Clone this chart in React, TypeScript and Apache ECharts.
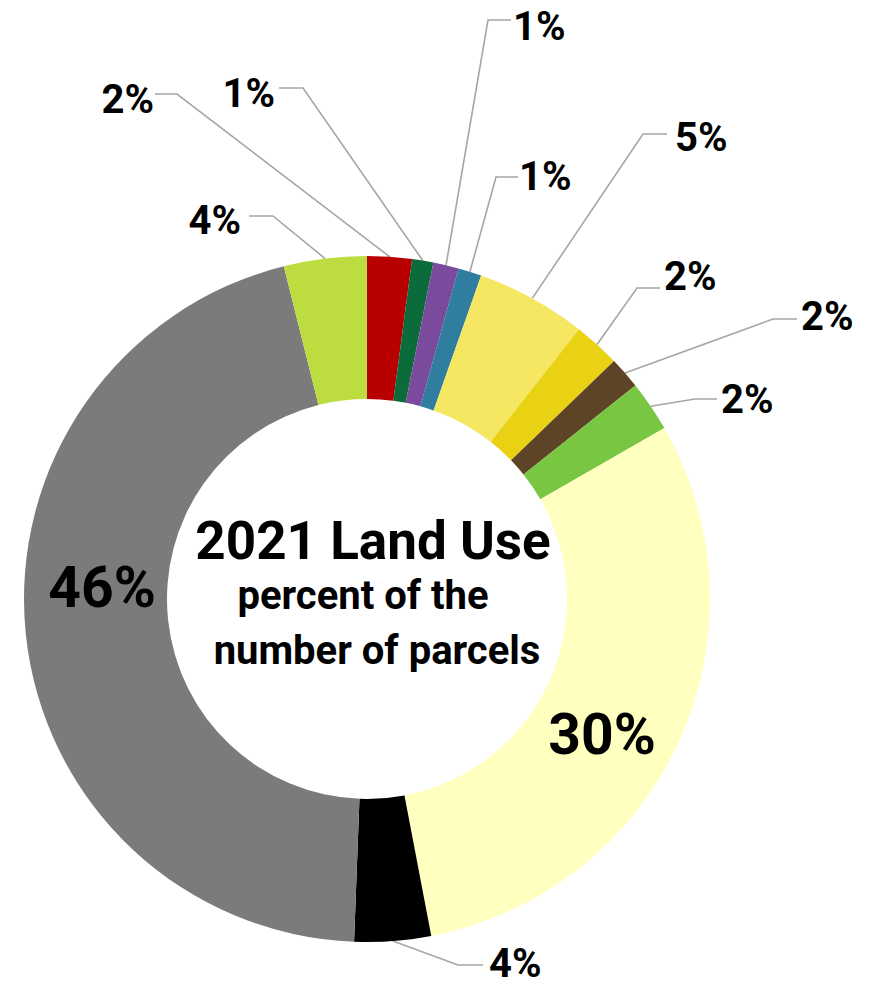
import React, { useEffect, useRef } from "react";
import * as echarts from "echarts";

// ---- data ----
const categories = [
  "Red", "Dark green", "Purple", "Blue", "Light yellow", "Gold",
  "Brown", "Green", "Pale yellow", "Black", "Gray", "Yellow green",
];
const values = [2.1, 1.0, 1.2, 1.1, 5.2, 2.2, 1.5, 2.4, 30.3, 3.6, 45.5, 3.9];
const percentLabels = ["2%", "1%", "1%", "1%", "5%", "2%", "2%", "2%", "30%", "4%", "46%", "4%"];
const colors = [
  "#B80000", "#0B6B3A", "#7A4B9C", "#2F7D9F", "#F5E762", "#E9D214",
  "#5E4426", "#78C642", "#FFFFC0", "#000000", "#7B7B7B", "#BDDC40",
];
const titleLines = ["2021 Land Use", "percent of the", "number of parcels"];

// ---- layout (label placement, pixels in the 876x985 canvas) ----
const CX = 367;
const CY = 599;
const R_IN = 200;
const R_OUT = 343;

type LabelPos = {
  x: number; y: number; align: "left" | "right" | "center";
  elbow?: [number, number]; end?: [number, number];
};
const labelPositions: LabelPos[] = [
  { x: 154, y: 99, align: "right", elbow: [177, 94], end: [155, 94] },
  { x: 275, y: 93, align: "right", elbow: [303, 88], end: [279, 88] },
  { x: 513, y: 26, align: "left", elbow: [488, 20], end: [511, 20] },
  { x: 519, y: 176, align: "left", elbow: [496, 177], end: [518, 177] },
  { x: 675, y: 137, align: "left", elbow: [643, 134], end: [667, 134] },
  { x: 664, y: 276, align: "left", elbow: [637, 288], end: [660, 288] },
  { x: 801, y: 316, align: "left", elbow: [773, 319], end: [797, 319] },
  { x: 721, y: 399, align: "left", elbow: [695, 399], end: [717, 399] },
  { x: 602, y: 734, align: "center" },
  { x: 489, y: 963, align: "left", elbow: [458, 965], end: [483, 965] },
  { x: 102, y: 587, align: "center" },
  { x: 241, y: 220, align: "right", elbow: [273, 216], end: [249, 216] },
];
const insideIdx = [8, 10];

const titleStyle = (text: string, size: number) => ({
  text,
  fontFamily: "Roboto",
  fontWeight: "bold",
  fontSize: size,
  fill: "#000000",
  textAlign: "center",
  textVerticalAlign: "middle",
});

export default function App() {
  const ref = useRef<HTMLDivElement>(null);

  useEffect(() => {
    document.body.style.margin = "0";
    if (!ref.current) return;
    const chart = echarts.init(ref.current, null, { renderer: "svg" });

    const total = values.reduce((a, b) => a + b, 0);
    const midPoint = (i: number): [number, number] => {
      let cum = 0;
      for (let k = 0; k < i; k++) cum += values[k];
      const a = ((cum + values[i] / 2) / total) * Math.PI * 2;
      return [CX + R_OUT * Math.sin(a), CY - R_OUT * Math.cos(a)];
    };

    const data = values.map((v, i) => {
      const inside = insideIdx.includes(i);
      return {
        name: categories[i],
        value: v,
        itemStyle: { color: colors[i] },
        label: inside
          ? { position: "inside", fontSize: 57 }
          : { position: "outside", fontSize: 40 },
        labelLine: { show: !inside },
      };
    });

    chart.setOption({
      animation: false,
      backgroundColor: "#ffffff",
      series: [
        {
          type: "pie",
          center: [CX, CY],
          radius: [R_IN, R_OUT],
          startAngle: 90,
          clockwise: true,
          avoidLabelOverlap: false,
          silent: true,
          data,
          label: {
            show: true,
            fontFamily: "Roboto",
            fontWeight: "bold",
            color: "#000000",
            formatter: (p: any) => percentLabels[p.dataIndex],
          },
          labelLine: {
            show: true,
            length: 20,
            length2: 20,
            lineStyle: { color: "#A6A6A6", width: 1.6 },
          },
          labelLayout: (params: any) => {
            const L = labelPositions[params.dataIndex];
            if (!L) return {};
            const out: any = {
              x: L.x,
              y: L.y,
              align: L.align,
              verticalAlign: "middle",
            };
            if (L.elbow && L.end) {
              const start =
                params.labelLinePoints && params.labelLinePoints[0]
                  ? params.labelLinePoints[0]
                  : midPoint(params.dataIndex);
              out.labelLinePoints = [start, L.elbow, L.end];
            }
            return out;
          },
        },
      ],
      graphic: [
        { type: "text", x: 373, y: 541, style: titleStyle(titleLines[0], 53) },
        { type: "text", x: 363, y: 595, style: titleStyle(titleLines[1], 40) },
        { type: "text", x: 377, y: 650, style: titleStyle(titleLines[2], 40) },
      ],
    });

    return () => chart.dispose();
  }, []);

  return <div ref={ref} style={{ width: 876, height: 985 }} />;
}
